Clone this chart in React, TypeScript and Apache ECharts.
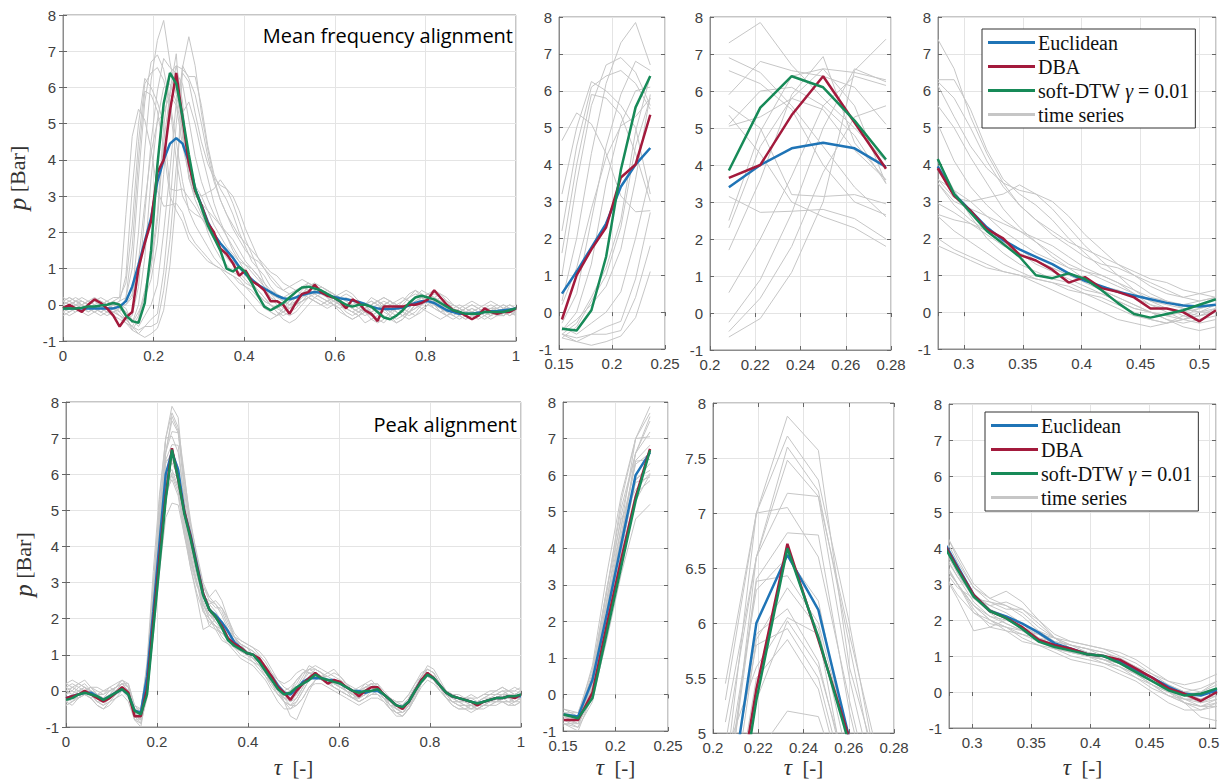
import React, { useEffect, useRef } from 'react';
import * as echarts from 'echarts';

// sampling grids (tau) of the two rows
const TAU_TOP = Array.from({ length: 73 }, (_, i) => i / 72);
const TAU_BOT = Array.from({ length: 74 }, (_, i) => i / 73);

const NAMES = ['Euclidean', 'DBA', 'soft-DTW γ = 0.01', 'time series'];

// ---------- top row: mean frequency alignment ----------
const EUC_TOP = [-0.1,-0.1,-0.1,-0.1,-0.1,-0.1,-0.1,-0.1,-0.1,-0.05,0.1,
  0.5,1.1,1.75,2.4,3.4,4.0,4.45,4.6,4.45,3.95,
  3.2,2.75,2.3,1.95,1.7,1.5,1.3,1.05,0.85,0.7,0.55,0.45,0.35,0.25,0.18,0.15,0.2,
  0.27,0.32,0.35,0.33,0.28,0.22,0.18,0.15,0.12,0.08,0.02,-0.05,-0.1,-0.12,-0.12,-0.1,-0.08,-0.02,0.05,0.1,0.1,0.05,-0.05,-0.15,-0.2,-0.25,-0.25,-0.25,-0.22,-0.2,-0.18,-0.17,-0.15,-0.13,-0.1];
const DBA_TOP = [-0.1,0.0,-0.1,-0.2,0.0,0.15,0.05,-0.1,-0.3,-0.6,-0.35,
  -0.2,1.0,1.7,2.3,3.65,4.0,5.35,6.4,5.15,3.9,
  3.15,2.75,2.25,2.0,1.55,1.4,1.15,0.8,0.95,0.65,0.55,0.4,0.1,0.1,0.0,-0.25,0.05,
  0.3,0.35,0.55,0.35,0.25,0.2,0.1,-0.1,0.15,0.05,-0.15,-0.25,-0.45,-0.05,-0.05,-0.05,-0.05,0.0,0.0,0.05,0.15,0.4,0.2,0.0,-0.15,-0.2,-0.3,-0.4,-0.3,-0.1,-0.2,-0.25,-0.2,-0.2,-0.1];
const SDTW_TOP = [-0.1,-0.1,-0.1,-0.08,-0.05,-0.05,-0.02,0.0,0.05,0.0,-0.3,
  -0.45,-0.5,0.05,1.5,3.85,5.55,6.4,6.1,5.2,4.15,
  3.2,2.7,2.2,1.85,1.5,1.0,0.92,1.05,0.9,0.6,0.25,-0.05,-0.15,-0.05,0.05,0.2,0.35,
  0.48,0.5,0.45,0.4,0.3,0.2,0.1,0.0,-0.05,0.0,0.0,-0.05,-0.2,-0.35,-0.4,-0.3,-0.15,0.05,0.2,0.25,0.2,0.15,0.05,-0.05,-0.15,-0.2,-0.25,-0.25,-0.25,-0.2,-0.2,-0.2,-0.2,-0.15,-0.1];

const TS_TOP = [
  [0.0,-0.1,0.1,0.0,-0.2,-0.1,0.0,0.1,-0.1,0.0,
   0.0,0.3,2.0,4.3,6.2,7.3,7.85,6.7,5.8,5.0,4.1,
   3.3,2.6,2.0,1.6,1.3,1.1,0.9,0.8,0.6,0.5,0.3,0.1,0.0,-0.1,0.0,0.1,0.2,
   0.3,0.4,0.3,0.2,0.1,0.0,-0.1,0.0,0.1,0.0,-0.2,-0.3,-0.2,0.0,0.1,0.0,-0.1,0.0,0.2,0.3,0.2,0.0,-0.1,-0.2,-0.3,-0.2,-0.1,-0.2,-0.3,-0.2,-0.1,0.0,-0.1,-0.2,-0.1],
  [-0.1,0.0,0.1,0.1,0.0,-0.1,-0.2,-0.1,0.0,0.1,
   0.2,1.0,3.5,5.6,6.7,6.9,6.5,5.6,4.5,3.4,2.6,
   2.2,1.9,1.6,1.3,1.1,0.9,0.8,0.6,0.5,0.4,0.2,0.0,-0.2,-0.3,-0.2,0.0,0.2,
   0.4,0.6,0.5,0.4,0.3,0.1,0.0,-0.1,-0.2,-0.3,-0.5,-0.4,-0.3,-0.1,0.0,0.1,0.2,0.1,0.0,-0.1,-0.2,-0.3,-0.4,-0.3,-0.2,-0.1,-0.2,-0.3,-0.3,-0.2,-0.2,-0.3,-0.2,-0.1,-0.2],
  [0.1,0.0,-0.1,-0.2,-0.3,-0.2,-0.1,0.0,0.1,0.2,
   0.6,2.2,4.5,6.1,6.4,6.55,6.2,5.5,4.0,3.0,2.65,
   2.5,2.4,2.2,1.9,1.6,1.3,1.1,0.9,0.7,0.5,0.3,0.1,0.0,-0.1,-0.2,-0.1,0.1,
   0.3,0.5,0.6,0.4,0.3,0.2,0.0,-0.1,0.0,0.1,0.0,-0.2,-0.4,-0.5,-0.3,-0.1,0.1,0.2,0.4,0.3,0.1,-0.1,-0.2,-0.1,0.0,-0.1,-0.2,-0.2,-0.3,-0.4,-0.3,-0.2,-0.1,-0.2,-0.3],
  [-0.2,-0.1,0.0,0.0,0.1,0.0,-0.1,-0.2,-0.2,-0.3,
   -0.4,-0.3,0.5,2.5,4.5,5.9,6.8,6.55,6.4,6.1,5.1,
   4.1,3.4,2.9,2.5,2.2,1.9,1.6,1.3,1.1,0.9,0.7,0.5,0.3,0.2,0.1,0.0,0.0,
   0.1,0.2,0.3,0.5,0.4,0.3,0.2,0.1,0.0,-0.1,-0.2,-0.3,-0.2,-0.1,0.0,-0.2,-0.3,-0.2,0.0,0.1,0.2,0.3,0.2,0.0,-0.1,-0.2,-0.3,-0.4,-0.3,-0.2,-0.1,-0.1,-0.2,-0.3,-0.2],
  [0.0,0.1,0.0,-0.1,0.0,0.1,0.2,0.1,0.0,0.1,
   0.8,3.2,5.0,6.25,6.0,5.6,5.0,3.2,3.15,3.2,2.95,
   2.7,2.4,2.1,1.8,1.6,1.4,1.2,1.0,0.9,0.7,0.6,0.4,0.2,0.1,0.0,-0.1,0.0,
   0.1,0.2,0.1,0.0,-0.1,0.0,0.1,0.2,0.1,0.0,-0.1,-0.2,-0.1,0.0,0.1,0.0,-0.1,-0.2,-0.1,0.0,0.1,0.2,0.1,0.0,-0.1,-0.3,-0.4,-0.3,-0.2,-0.1,-0.2,-0.3,-0.3,-0.2,-0.1],
  [-0.1,-0.2,-0.1,0.0,0.1,0.2,0.1,0.0,-0.1,-0.2,
   0.2,1.6,4.0,5.9,5.8,5.35,4.3,3.0,2.6,2.3,1.8,
   1.6,1.4,1.2,1.1,1.0,0.8,0.6,0.4,0.2,0.0,-0.2,-0.3,-0.4,-0.3,-0.1,0.1,0.2,
   0.3,0.4,0.5,0.4,0.2,0.1,0.0,-0.1,-0.2,-0.1,0.0,0.1,0.0,-0.2,-0.3,-0.4,-0.3,-0.1,0.1,0.2,0.1,0.0,-0.1,-0.2,-0.1,0.0,-0.1,-0.2,-0.1,0.0,0.1,0.0,-0.1,-0.2,-0.2],
  [0.1,0.2,0.1,0.0,-0.1,-0.2,-0.3,-0.2,-0.1,0.0,
   -0.1,-0.5,0.0,1.3,3.5,5.1,6.0,6.1,5.6,4.8,3.5,
   3.0,2.8,2.6,2.4,2.2,2.0,1.8,1.5,1.2,1.0,0.8,0.5,0.2,0.0,-0.2,-0.3,-0.2,
   0.0,0.2,0.4,0.5,0.4,0.2,0.0,-0.2,-0.3,-0.2,0.0,0.2,0.1,-0.1,-0.3,-0.5,-0.4,-0.2,0.0,0.2,0.3,0.2,0.0,-0.2,-0.3,-0.2,-0.1,0.0,-0.1,-0.2,-0.3,-0.2,-0.1,0.0,-0.1],
  [-0.3,-0.2,-0.1,-0.1,0.0,0.1,0.0,-0.1,-0.2,-0.1,
   0.0,0.2,1.2,2.8,4.2,5.05,5.3,5.8,5.5,4.4,3.6,
   3.1,3.0,3.1,3.2,3.45,3.2,2.8,2.3,1.8,1.4,1.0,0.6,0.3,0.1,-0.1,-0.2,-0.1,
   0.1,0.3,0.4,0.3,0.2,0.0,-0.2,-0.3,-0.4,-0.3,-0.1,0.0,0.1,0.0,-0.2,-0.3,-0.2,0.0,0.2,0.4,0.3,0.1,-0.1,-0.3,-0.4,-0.3,-0.2,-0.3,-0.4,-0.3,-0.2,-0.2,-0.3,-0.2,-0.2],
  [0.0,0.1,0.2,0.1,0.0,-0.1,0.0,0.1,0.2,0.2,
   2.5,4.65,5.4,5.1,4.3,3.15,2.72,2.75,2.8,2.55,2.0,
   1.7,1.5,1.3,1.1,1.0,0.9,0.8,0.7,0.5,0.3,0.1,-0.1,-0.2,-0.3,-0.2,-0.1,0.0,
   0.1,0.2,0.1,0.0,0.1,0.2,0.1,0.0,-0.1,-0.2,-0.1,0.0,0.1,0.2,0.1,-0.1,-0.2,-0.3,-0.2,0.0,0.1,0.0,-0.2,-0.3,-0.2,-0.1,0.0,0.1,0.0,-0.1,-0.2,-0.1,0.0,-0.1,-0.2],
  [0.1,0.0,-0.1,-0.2,-0.1,0.0,0.1,0.0,-0.1,-0.3,
   -0.5,-0.6,-0.3,0.4,1.2,2.5,4.9,6.4,6.6,5.6,3.5,
   2.9,2.5,2.2,1.9,1.7,1.4,1.2,1.0,0.8,0.6,0.4,0.2,0.0,-0.2,-0.3,-0.2,0.0,
   0.2,0.3,0.2,0.1,0.0,0.1,0.2,0.3,0.2,0.0,-0.2,-0.4,-0.5,-0.4,-0.2,0.0,0.1,0.3,0.4,0.2,0.0,-0.1,-0.2,-0.1,-0.2,-0.3,-0.4,-0.3,-0.2,-0.1,-0.2,-0.3,-0.2,-0.1,-0.2],
  [-0.2,-0.3,-0.2,-0.1,0.0,-0.1,-0.2,-0.1,0.0,-0.1,
   -0.3,-0.7,-0.4,0.3,1.0,2.3,4.5,5.8,6.6,6.5,6.3,
   6.3,5.5,4.4,3.6,3.2,2.9,2.5,2.0,1.6,1.2,1.0,0.8,0.5,0.3,0.1,0.0,0.1,
   0.3,0.5,0.6,0.5,0.4,0.3,0.2,0.1,0.0,-0.1,0.0,0.1,0.0,-0.1,-0.2,-0.1,0.0,0.2,0.3,0.2,0.1,0.0,-0.2,-0.3,-0.2,-0.1,-0.2,-0.3,-0.2,-0.1,0.0,-0.1,-0.2,-0.3,-0.2],
  [0.0,-0.1,0.0,0.1,0.0,-0.1,-0.2,-0.3,-0.2,-0.1,
   -0.2,-0.5,-0.2,0.2,0.7,1.7,3.6,5.9,6.93,4.6,3.6,
   3.3,3.0,2.6,2.2,1.9,1.6,1.4,1.2,1.1,1.0,0.8,0.6,0.4,0.3,0.2,0.3,0.4,
   0.5,0.6,0.5,0.4,0.3,0.2,0.1,0.0,-0.1,-0.2,-0.3,-0.2,-0.1,0.0,0.1,0.0,-0.1,0.0,0.1,0.2,0.3,0.2,0.1,-0.1,-0.3,-0.4,-0.3,-0.2,-0.1,-0.2,-0.3,-0.2,-0.1,-0.1,-0.2],
  [0.1,0.2,0.1,0.0,-0.1,-0.2,-0.1,0.0,0.1,0.0,
   -0.2,-0.4,-0.6,-0.3,0.0,0.55,2.0,3.7,5.6,6.4,6.15,
   5.3,4.5,3.9,3.5,3.3,3.2,3.0,2.6,2.1,1.7,1.3,1.0,0.7,0.5,0.4,0.5,0.6,
   0.7,0.6,0.5,0.4,0.3,0.2,0.0,-0.1,-0.2,-0.3,-0.2,-0.1,0.0,0.1,0.0,-0.2,-0.3,-0.2,-0.1,0.1,0.3,0.4,0.3,0.1,-0.1,-0.2,-0.1,0.0,-0.1,-0.2,-0.3,-0.2,-0.1,0.0,-0.1],
  [-0.1,0.0,0.1,0.2,0.1,0.0,-0.1,-0.2,-0.3,-0.4,
   -0.5,-0.7,-0.8,-0.6,-0.4,-0.25,0.9,2.7,5.0,6.6,6.25,
   5.8,5.0,4.1,3.4,2.9,2.5,2.2,1.9,1.7,1.5,1.3,1.1,0.9,0.8,0.6,0.5,0.4,
   0.3,0.2,0.1,0.0,0.1,0.2,0.3,0.4,0.3,0.1,0.0,-0.1,-0.2,-0.3,-0.4,-0.5,-0.4,-0.2,0.0,0.1,0.2,0.1,0.0,-0.1,-0.2,-0.3,-0.2,-0.1,-0.2,-0.3,-0.4,-0.3,-0.2,-0.2,-0.3],
  [0.0,-0.1,-0.2,-0.1,0.0,0.1,0.0,-0.1,-0.2,-0.3,
   -0.4,-0.6,-0.7,-0.6,-0.6,-0.5,0.4,1.8,3.8,5.3,5.6,
   5.0,4.2,3.5,2.8,2.3,1.9,1.5,1.2,0.9,0.6,0.4,0.2,0.0,-0.2,-0.4,-0.5,-0.4,
   -0.2,0.0,0.2,0.3,0.4,0.3,0.1,0.0,-0.1,-0.2,-0.1,0.0,0.1,0.0,-0.1,-0.2,-0.3,-0.4,-0.3,-0.1,0.0,0.1,0.2,0.1,0.0,-0.1,-0.2,-0.3,-0.2,-0.1,-0.1,-0.2,-0.3,-0.2,-0.1],
  [0.2,0.1,0.0,-0.1,-0.2,-0.1,0.0,0.1,0.0,-0.2,
   -0.4,-0.6,-0.8,-0.9,-0.8,-0.65,-0.15,1.1,3.0,6.55,7.4,
   6.6,5.3,4.3,3.5,2.9,2.5,2.1,1.8,1.5,1.3,1.2,1.0,0.8,0.6,0.4,0.3,0.4,
   0.5,0.4,0.3,0.2,0.1,0.0,-0.1,-0.3,-0.4,-0.3,-0.2,0.0,0.1,0.2,0.1,0.0,-0.1,-0.2,-0.3,-0.2,0.0,0.2,0.3,0.2,0.0,-0.1,-0.2,-0.1,-0.2,-0.3,-0.2,-0.1,0.0,-0.1,-0.2],
];

// ---------- bottom row: peak alignment ----------
const EUC_BOT = [-0.2,-0.15,-0.1,-0.05,-0.05,-0.15,-0.25,-0.15,-0.05,0.05,-0.1,
  -0.55,-0.6,0.4,2.2,4.1,6.0,6.62,
  6.12,4.95,4.3,3.5,2.7,2.25,2.1,1.9,1.65,1.35,1.2,1.05,1.0,0.85,0.6,0.4,0.15,-0.05,-0.1,0.05,
  0.25,0.35,0.35,0.35,0.3,0.3,0.2,0.1,0.0,0.0,-0.05,0.0,0.0,-0.1,-0.25,-0.4,-0.45,-0.3,0.0,0.3,0.45,0.35,0.15,-0.05,-0.15,-0.2,-0.25,-0.3,-0.35,-0.3,-0.25,-0.2,-0.2,-0.15,-0.15,-0.15];
const DBA_BOT = [-0.2,-0.15,-0.1,0.0,-0.1,-0.2,-0.3,-0.2,-0.05,0.1,-0.05,
  -0.7,-0.7,0.05,1.9,3.7,5.4,6.72,
  5.85,4.95,4.25,3.45,2.7,2.25,2.05,1.8,1.45,1.3,1.2,1.05,1.0,0.9,0.65,0.4,0.1,-0.05,-0.25,0.0,
  0.2,0.35,0.5,0.35,0.2,0.3,0.25,0.1,0.0,-0.15,0.0,0.1,0.1,-0.1,-0.25,-0.4,-0.5,-0.3,0.0,0.3,0.5,0.35,0.15,-0.05,-0.15,-0.2,-0.25,-0.3,-0.4,-0.3,-0.25,-0.2,-0.2,-0.15,-0.2,-0.1];
const SDTW_BOT = [-0.25,-0.2,-0.1,-0.05,-0.1,-0.15,-0.25,-0.15,-0.05,0.05,-0.1,
  -0.55,-0.65,-0.1,1.7,3.5,5.3,6.68,
  5.87,4.9,4.2,3.4,2.65,2.25,2.05,1.75,1.4,1.25,1.15,1.05,1.0,0.8,0.55,0.3,0.05,-0.1,-0.05,0.1,
  0.2,0.3,0.45,0.35,0.3,0.25,0.2,0.1,0.0,-0.05,0.0,0.0,0.05,-0.1,-0.25,-0.4,-0.45,-0.3,0.0,0.25,0.45,0.35,0.15,-0.05,-0.15,-0.2,-0.25,-0.3,-0.35,-0.3,-0.25,-0.2,-0.2,-0.15,-0.15,-0.1];

const TS_BOT = [
  [-0.3,-0.2,0.0,0.1,-0.1,-0.3,-0.4,-0.2,0.0,0.2,0.0,
   -0.8,-0.9,0.2,2.3,4.6,7.0,7.88,
   7.57,5.6,4.6,3.8,3.0,2.6,2.4,2.1,1.7,1.4,1.3,1.2,1.1,0.95,0.7,0.4,0.1,-0.2,-0.4,-0.2,
   0.1,0.4,0.6,0.5,0.3,0.2,0.3,0.1,-0.1,-0.2,-0.1,0.1,0.2,-0.1,-0.4,-0.6,-0.7,-0.5,-0.1,0.3,0.6,0.5,0.2,-0.1,-0.3,-0.3,-0.4,-0.4,-0.5,-0.4,-0.3,-0.3,-0.2,-0.2,-0.3,-0.2],
  [-0.2,-0.1,0.1,0.2,0.0,-0.2,-0.3,-0.1,0.1,0.3,0.1,
   -0.6,-0.8,0.5,2.8,5.3,7.0,7.7,
   7.3,6.0,4.5,3.6,2.9,2.5,2.3,2.3,2.0,1.6,1.4,1.3,1.2,1.0,0.8,0.5,0.2,0.0,-0.2,0.0,
   0.3,0.6,0.7,0.6,0.5,0.4,0.3,0.2,0.0,-0.1,0.0,0.2,0.1,-0.1,-0.3,-0.5,-0.6,-0.4,0.0,0.4,0.7,0.6,0.3,0.0,-0.2,-0.2,-0.3,-0.4,-0.4,-0.3,-0.2,-0.2,-0.1,-0.1,-0.2,-0.1],
  [0.0,0.1,0.0,-0.1,-0.2,-0.1,0.0,0.1,0.0,0.1,0.0,
   -0.7,-0.8,0.3,2.6,4.9,6.6,7.6,
   7.2,5.8,4.4,3.4,2.7,2.3,2.1,1.9,1.7,1.5,1.3,1.2,1.1,0.9,0.6,0.3,0.0,-0.3,-0.5,-0.3,
   0.0,0.3,0.5,0.4,0.3,0.3,0.2,0.0,-0.1,-0.2,-0.1,0.0,0.0,-0.2,-0.4,-0.5,-0.5,-0.3,0.0,0.3,0.5,0.4,0.1,-0.2,-0.3,-0.4,-0.4,-0.5,-0.4,-0.3,-0.3,-0.2,-0.2,-0.3,-0.3,-0.2],
  [-0.4,-0.3,-0.1,0.0,-0.1,-0.3,-0.4,-0.3,-0.1,0.0,-0.1,
   -0.8,-1.0,0.0,2.0,4.2,6.6,7.48,
   7.15,5.9,4.7,3.7,2.9,2.6,2.8,2.5,2.0,1.5,1.2,1.1,1.0,0.9,0.7,0.4,0.1,-0.3,-0.7,-0.8,
   -0.4,0.0,0.3,0.4,0.3,0.2,0.1,0.0,-0.1,-0.3,-0.2,0.0,0.1,-0.1,-0.3,-0.5,-0.6,-0.5,-0.2,0.2,0.5,0.4,0.2,-0.1,-0.3,-0.4,-0.5,-0.5,-0.4,-0.4,-0.3,-0.2,-0.3,-0.3,-0.2,-0.2],
  [0.1,0.2,0.1,0.0,-0.1,-0.2,-0.2,0.0,0.1,0.2,0.0,
   -0.5,-0.6,0.6,2.9,5.1,6.6,7.18,
   7.15,5.5,4.3,3.3,2.6,2.4,2.5,2.3,1.9,1.5,1.2,1.0,0.9,0.8,0.6,0.4,0.2,0.0,-0.1,0.1,
   0.4,0.7,0.6,0.5,0.4,0.5,0.4,0.2,0.1,0.0,0.1,0.2,0.0,-0.2,-0.3,-0.4,-0.4,-0.2,0.1,0.4,0.6,0.5,0.2,0.0,-0.1,-0.2,-0.3,-0.3,-0.3,-0.2,-0.1,-0.1,0.0,-0.1,-0.1,0.0],
  [-0.1,0.0,0.2,0.3,0.1,-0.1,-0.2,-0.1,0.1,0.3,0.2,
   -0.4,-0.6,0.8,3.3,5.45,7.0,7.05,
   6.6,5.3,4.1,3.3,2.6,2.2,1.9,1.7,1.6,1.5,1.4,1.3,1.2,1.1,0.9,0.6,0.3,0.1,0.0,0.2,
   0.5,0.6,0.5,0.4,0.3,0.2,0.1,0.0,-0.1,0.0,0.2,0.3,0.1,-0.1,-0.2,-0.4,-0.5,-0.3,0.0,0.3,0.5,0.4,0.1,-0.1,-0.2,-0.3,-0.2,-0.2,-0.3,-0.2,-0.2,-0.1,-0.1,0.0,-0.1,0.0],
  [-0.3,-0.2,-0.2,-0.1,-0.2,-0.4,-0.5,-0.3,-0.2,0.0,-0.2,
   -0.7,-0.7,0.1,2.2,4.4,6.4,6.82,
   6.8,5.2,4.0,3.2,2.5,2.1,2.0,1.8,1.6,1.3,1.1,1.0,0.9,0.8,0.5,0.2,-0.1,-0.3,-0.4,-0.4,
   -0.2,0.1,0.3,0.4,0.3,0.1,0.0,-0.1,-0.2,-0.3,-0.2,-0.1,0.0,-0.2,-0.5,-0.6,-0.6,-0.4,-0.1,0.2,0.4,0.3,0.0,-0.2,-0.4,-0.5,-0.5,-0.4,-0.5,-0.4,-0.4,-0.3,-0.3,-0.4,-0.3,-0.3],
  [0.2,0.3,0.2,0.1,0.0,-0.1,-0.1,0.1,0.2,0.3,0.1,
   -0.5,-0.5,0.5,2.6,4.6,6.3,6.6,
   6.2,4.8,3.8,3.0,2.4,2.0,1.8,1.7,1.5,1.3,1.2,1.1,1.0,0.8,0.5,0.2,0.0,-0.1,0.0,0.3,
   0.5,0.5,0.4,0.3,0.3,0.2,0.2,0.1,0.0,0.1,0.2,0.1,0.0,-0.1,-0.2,-0.3,-0.3,-0.1,0.2,0.4,0.5,0.3,0.1,-0.1,-0.1,-0.2,-0.2,-0.1,-0.2,-0.1,0.0,0.0,0.1,0.0,-0.1,0.0],
  [-0.2,-0.3,-0.1,0.0,0.1,-0.1,-0.3,-0.2,0.0,0.1,-0.1,
   -0.6,-0.7,0.3,2.4,4.3,6.38,6.43,
   6.0,4.9,3.9,3.2,2.7,2.4,2.2,1.9,1.5,1.2,1.0,0.9,0.8,0.7,0.5,0.3,0.1,-0.1,-0.3,-0.2,
   0.1,0.4,0.5,0.4,0.2,0.1,0.0,-0.1,-0.2,-0.2,-0.1,0.1,0.0,-0.2,-0.4,-0.4,-0.5,-0.3,0.0,0.3,0.4,0.3,0.1,-0.1,-0.3,-0.3,-0.4,-0.4,-0.3,-0.3,-0.2,-0.3,-0.2,-0.2,-0.2,-0.1],
  [0.0,-0.1,-0.2,-0.1,0.0,-0.2,-0.3,-0.1,0.0,0.1,0.0,
   -0.6,-0.6,0.0,1.9,3.9,5.85,6.32,
   5.95,4.7,3.7,3.0,2.3,1.8,1.7,1.6,1.5,1.4,1.3,1.1,0.9,0.7,0.4,0.2,0.0,-0.2,-0.3,-0.1,
   0.2,0.3,0.4,0.3,0.2,0.2,0.1,0.0,-0.1,-0.1,0.0,0.0,-0.1,-0.2,-0.3,-0.5,-0.6,-0.4,-0.1,0.3,0.5,0.4,0.1,-0.1,-0.2,-0.3,-0.3,-0.4,-0.5,-0.4,-0.3,-0.3,-0.2,-0.2,-0.3,-0.2],
  [-0.1,0.1,0.2,0.1,-0.1,-0.3,-0.3,-0.2,0.0,0.2,0.1,
   -0.5,-0.7,0.2,2.3,4.2,5.9,6.13,
   5.65,4.5,3.6,3.0,2.4,2.1,1.9,1.7,1.4,1.2,1.1,1.0,0.9,0.8,0.6,0.3,0.0,-0.2,-0.2,0.0,
   0.3,0.5,0.5,0.4,0.4,0.3,0.1,0.0,-0.2,-0.1,0.1,0.2,0.0,-0.1,-0.3,-0.4,-0.4,-0.2,0.1,0.3,0.5,0.4,0.2,0.0,-0.2,-0.2,-0.3,-0.3,-0.4,-0.3,-0.2,-0.2,-0.1,-0.2,-0.2,-0.1],
  [-0.3,-0.4,-0.2,0.0,0.0,-0.1,-0.2,-0.2,-0.1,0.1,-0.1,
   -0.7,-0.9,-0.2,1.6,3.5,5.3,6.02,
   5.6,4.6,3.7,3.0,2.2,1.9,1.8,1.6,1.4,1.3,1.2,1.1,1.0,0.8,0.5,0.2,-0.1,-0.3,-0.4,-0.3,
   0.0,0.3,0.4,0.3,0.2,0.1,0.0,-0.1,-0.2,-0.3,-0.2,-0.1,-0.1,-0.3,-0.5,-0.6,-0.7,-0.5,-0.2,0.2,0.4,0.4,0.1,-0.2,-0.3,-0.4,-0.4,-0.5,-0.5,-0.4,-0.4,-0.3,-0.3,-0.3,-0.4,-0.3],
  [0.1,0.0,-0.1,0.0,0.1,0.0,-0.1,0.0,0.1,0.2,0.0,
   -0.6,-0.6,0.4,2.5,4.3,5.8,5.95,
   5.5,4.4,3.4,2.6,1.7,1.8,2.0,1.8,1.5,1.3,1.2,1.1,0.9,0.7,0.5,0.3,0.1,0.0,0.1,0.3,
   0.5,0.6,0.6,0.5,0.3,0.2,0.1,0.1,0.0,0.0,0.1,0.1,0.0,-0.1,-0.2,-0.3,-0.4,-0.2,0.1,0.3,0.4,0.4,0.2,0.0,-0.1,-0.2,-0.2,-0.3,-0.3,-0.2,-0.1,-0.1,0.0,0.0,0.1,0.0],
  [-0.2,-0.2,0.0,0.1,0.0,-0.2,-0.3,-0.2,-0.1,0.0,-0.1,
   -0.6,-0.8,0.1,2.0,3.8,5.5,5.85,
   5.4,4.3,3.4,2.7,2.2,2.0,1.7,1.4,1.3,1.2,1.1,1.0,0.8,0.6,0.4,0.1,-0.1,-0.2,-0.2,-0.1,
   0.2,0.4,0.5,0.4,0.3,0.2,0.2,0.1,-0.1,-0.2,-0.1,0.0,0.0,-0.2,-0.3,-0.4,-0.5,-0.3,0.0,0.3,0.4,0.3,0.1,-0.1,-0.2,-0.3,-0.3,-0.3,-0.4,-0.3,-0.3,-0.2,-0.2,-0.1,-0.2,-0.2],
  [0.2,0.1,0.0,0.0,0.1,0.1,0.0,0.0,0.1,0.2,0.2,
   -0.4,-0.5,0.7,2.9,4.8,5.6,6.05,
   5.9,4.4,3.5,2.9,2.6,2.5,2.4,2.2,1.8,1.5,1.3,1.2,1.0,0.9,0.7,0.5,0.3,0.2,0.3,0.5,
   0.6,0.5,0.4,0.4,0.5,0.6,0.4,0.2,0.0,0.0,0.1,0.2,0.2,0.0,-0.2,-0.3,-0.3,-0.1,0.2,0.5,0.6,0.5,0.2,0.0,-0.1,-0.1,-0.2,-0.2,-0.2,-0.1,-0.1,0.0,0.1,0.0,0.0,0.1],
  [-0.4,-0.3,-0.2,-0.1,-0.2,-0.4,-0.5,-0.4,-0.2,-0.1,-0.3,
   -0.8,-0.8,-0.1,1.5,3.3,4.8,5.2,
   5.15,4.3,3.6,3.0,2.4,2.0,1.8,1.5,1.3,1.1,0.9,0.8,0.7,0.5,0.3,0.0,-0.3,-0.5,-0.5,-0.4,
   -0.2,0.1,0.2,0.2,0.1,0.0,-0.1,-0.2,-0.3,-0.4,-0.3,-0.2,-0.2,-0.3,-0.5,-0.7,-0.7,-0.5,-0.2,0.1,0.3,0.2,0.0,-0.2,-0.4,-0.5,-0.5,-0.6,-0.5,-0.5,-0.4,-0.4,-0.3,-0.4,-0.4,-0.3],
];

// ---------- styling / layout ----------
const BLUE = '#1f74b6';
const RED = '#a31a3c';
const GREEN = '#178a58';
const GRAY = '#c6c6c6';
const AXIS_COLOR = '#8c8c8c';
const GRID_COLOR = '#e4e4e4';
const LABEL_COLOR = '#404040';
const SANS = "'Liberation Sans', Arial, sans-serif";
const SERIF = "'Liberation Serif', 'DejaVu Serif', serif";

type Panel = {
  row: 0 | 1; left: number; top: number; width: number; height: number;
  xMin: number; xMax: number; xInterval?: number;
  yMin: number; yMax: number; yInterval: number;
  from: number; to: number; yName?: boolean; xNameGap?: number;
};

const PANELS: Panel[] = [
  { row: 0, left: 63, top: 15, width: 453, height: 326, xMin: 0, xMax: 1, xInterval: 0.2, yMin: -1, yMax: 8, yInterval: 1, from: 0, to: 72, yName: true },
  { row: 0, left: 559, top: 17, width: 106, height: 332, xMin: 0.15, xMax: 0.25, xInterval: 0.05, yMin: -1, yMax: 8, yInterval: 1, from: 11, to: 17 },
  { row: 0, left: 710, top: 17, width: 181, height: 333, xMin: 0.2, xMax: 0.28, xInterval: 0.02, yMin: -1, yMax: 8, yInterval: 1, from: 15, to: 20 },
  { row: 0, left: 938, top: 17, width: 278, height: 332, xMin: 0.278, xMax: 0.514, yMin: -1, yMax: 8, yInterval: 1, from: 20, to: 37 },
  { row: 1, left: 66, top: 402, width: 455, height: 325, xMin: 0, xMax: 1, xInterval: 0.2, yMin: -1, yMax: 8, yInterval: 1, from: 0, to: 73, yName: true, xNameGap: 29 },
  { row: 1, left: 563, top: 402, width: 105, height: 331, xMin: 0.15, xMax: 0.25, xInterval: 0.05, yMin: -1, yMax: 8, yInterval: 1, from: 11, to: 17, xNameGap: 25 },
  { row: 1, left: 713, top: 403, width: 181, height: 334, xMin: 0.2, xMax: 0.28, xInterval: 0.02, yMin: 5, yMax: 8, yInterval: 0.5, from: 15, to: 20, xNameGap: 22 },
  { row: 1, left: 949, top: 404, width: 267, height: 326, xMin: 0.2805, xMax: 0.506, yMin: -1, yMax: 8, yInterval: 1, from: 20, to: 37, xNameGap: 28 },
];

function pairs(tau: number[], ys: number[], from: number, to: number) {
  const out: number[][] = [];
  for (let i = from; i <= to && i < ys.length; i++) out.push([tau[i], ys[i]]);
  return out;
}

function buildOption() {
  const grid: any[] = [];
  const xAxis: any[] = [];
  const yAxis: any[] = [];
  const series: any[] = [];

  PANELS.forEach((p, k) => {
    grid.push({
      left: p.left, top: p.top, width: p.width, height: p.height,
      show: true, borderColor: AXIS_COLOR, borderWidth: 1, backgroundColor: '#fff',
    });
    const xTicks = p.xInterval ? { interval: p.xInterval } : { splitNumber: 5 };
    const autoEnds = !p.xInterval;
    xAxis.push({
      type: 'value', gridIndex: k, min: p.xMin, max: p.xMax, ...xTicks,
      axisLine: { show: true, onZero: false, lineStyle: { color: AXIS_COLOR } },
      axisTick: { show: true, inside: true, length: 4, lineStyle: { color: '#666' } },
      axisLabel: {
        color: LABEL_COLOR, fontSize: 15, fontFamily: SANS, margin: 7,
        showMinLabel: !autoEnds, showMaxLabel: !autoEnds,
      },
      splitLine: { show: true, lineStyle: { color: GRID_COLOR, width: 1 } },
      ...(p.row === 1
        ? {
            name: '{i|τ}  [-]', nameLocation: 'middle', nameGap: p.xNameGap,
            nameTextStyle: {
              fontFamily: SERIF, fontSize: 21, color: '#333',
              rich: { i: { fontFamily: SERIF, fontStyle: 'italic', fontSize: 23, color: '#333' } },
            },
          }
        : {}),
    });
    xAxis.push({
      type: 'value', gridIndex: k, position: 'top', min: p.xMin, max: p.xMax, ...xTicks,
      axisLine: { show: false }, axisLabel: { show: false }, splitLine: { show: false },
      axisTick: { show: true, inside: true, length: 4, lineStyle: { color: '#666' } },
    });
    yAxis.push({
      type: 'value', gridIndex: k, min: p.yMin, max: p.yMax, interval: p.yInterval,
      axisLine: { show: true, onZero: false, lineStyle: { color: AXIS_COLOR } },
      axisTick: { show: true, inside: true, length: 4, lineStyle: { color: '#666' } },
      axisLabel: { color: LABEL_COLOR, fontSize: 15, fontFamily: SANS, margin: 7 },
      splitLine: { show: true, lineStyle: { color: GRID_COLOR, width: 1 } },
      ...(p.yName
        ? {
            name: '{i|p} [Bar]', nameLocation: 'middle', nameGap: p.row === 0 ? 33 : 30,
            nameTextStyle: {
              fontFamily: SERIF, fontSize: 22, color: '#333',
              rich: { i: { fontFamily: SERIF, fontStyle: 'italic', fontSize: 25, color: '#333' } },
            },
          }
        : {}),
    });
    yAxis.push({
      type: 'value', gridIndex: k, position: 'right', min: p.yMin, max: p.yMax, interval: p.yInterval,
      axisLine: { show: false }, axisLabel: { show: false }, splitLine: { show: false },
      axisTick: { show: true, inside: true, length: 4, lineStyle: { color: '#666' } },
    });

    const tau = p.row === 0 ? TAU_TOP : TAU_BOT;
    const gray = p.row === 0 ? TS_TOP : TS_BOT;
    const colored = p.row === 0
      ? [[NAMES[0], EUC_TOP, BLUE], [NAMES[1], DBA_TOP, RED], [NAMES[2], SDTW_TOP, GREEN]]
      : [[NAMES[0], EUC_BOT, BLUE], [NAMES[1], DBA_BOT, RED], [NAMES[2], SDTW_BOT, GREEN]];

    const base = {
      type: 'line', xAxisIndex: 2 * k, yAxisIndex: 2 * k, showSymbol: false, symbol: 'none',
      silent: true, clip: true, animation: false,
    };
    gray.forEach((ys) => {
      series.push({
        ...base, name: NAMES[3], data: pairs(tau, ys, p.from, p.to), z: 2,
        lineStyle: { width: 1, color: GRAY }, itemStyle: { color: GRAY },
      });
    });
    colored.forEach(([name, ys, color], j) => {
      series.push({
        ...base, name, data: pairs(tau, ys as number[], p.from, p.to), z: 3 + j,
        lineStyle: { width: 2.5, color }, itemStyle: { color },
      });
    });
  });

  const legendCommon = {
    data: NAMES, orient: 'vertical', icon: 'rect', itemWidth: 47, itemHeight: 3, itemGap: 3,
    selectedMode: false, backgroundColor: '#fff', borderColor: '#333', borderWidth: 1, borderRadius: 0,
    padding: [3, 6, 3, 6],
    formatter: (name: string) => (name.startsWith('soft') ? 'soft-DTW {g|γ} = 0.01' : name),
    textStyle: {
      fontFamily: SERIF, fontSize: 20, color: '#111', lineHeight: 21, padding: [0, 0, 0, -2],
      rich: { g: { fontFamily: SERIF, fontStyle: 'italic', fontSize: 20, color: '#111', lineHeight: 21 } },
    },
    z: 10,
  };

  return {
    animation: false,
    backgroundColor: '#fff',
    title: [
      {
        text: 'Mean frequency alignment', right: 1225 - 513, top: 25, padding: 0,
        textStyle: { fontFamily: "'Open Sans', 'Noto Sans', sans-serif", fontSize: 20, fontWeight: 'normal', color: '#000' },
      },
      {
        text: 'Peak alignment', right: 1225 - 517, top: 414, padding: 0,
        textStyle: { fontFamily: "'Open Sans', 'Noto Sans', sans-serif", fontSize: 20, fontWeight: 'normal', color: '#000' },
      },
    ],
    legend: [
      { ...legendCommon, left: 982, top: 29 },
      { ...legendCommon, left: 985, top: 412 },
    ],
    grid,
    xAxis,
    yAxis,
    series,
  };
}

export default function App() {
  const ref = useRef<HTMLDivElement>(null);
  useEffect(() => {
    if (!ref.current) return;
    const chart = echarts.init(ref.current, null, { renderer: 'svg' });
    chart.setOption(buildOption() as any);
    return () => chart.dispose();
  }, []);
  return (
    <div
      ref={ref}
      style={{ position: 'absolute', left: 0, top: 0, width: 1225, height: 780, background: '#fff' }}
    />
  );
}
